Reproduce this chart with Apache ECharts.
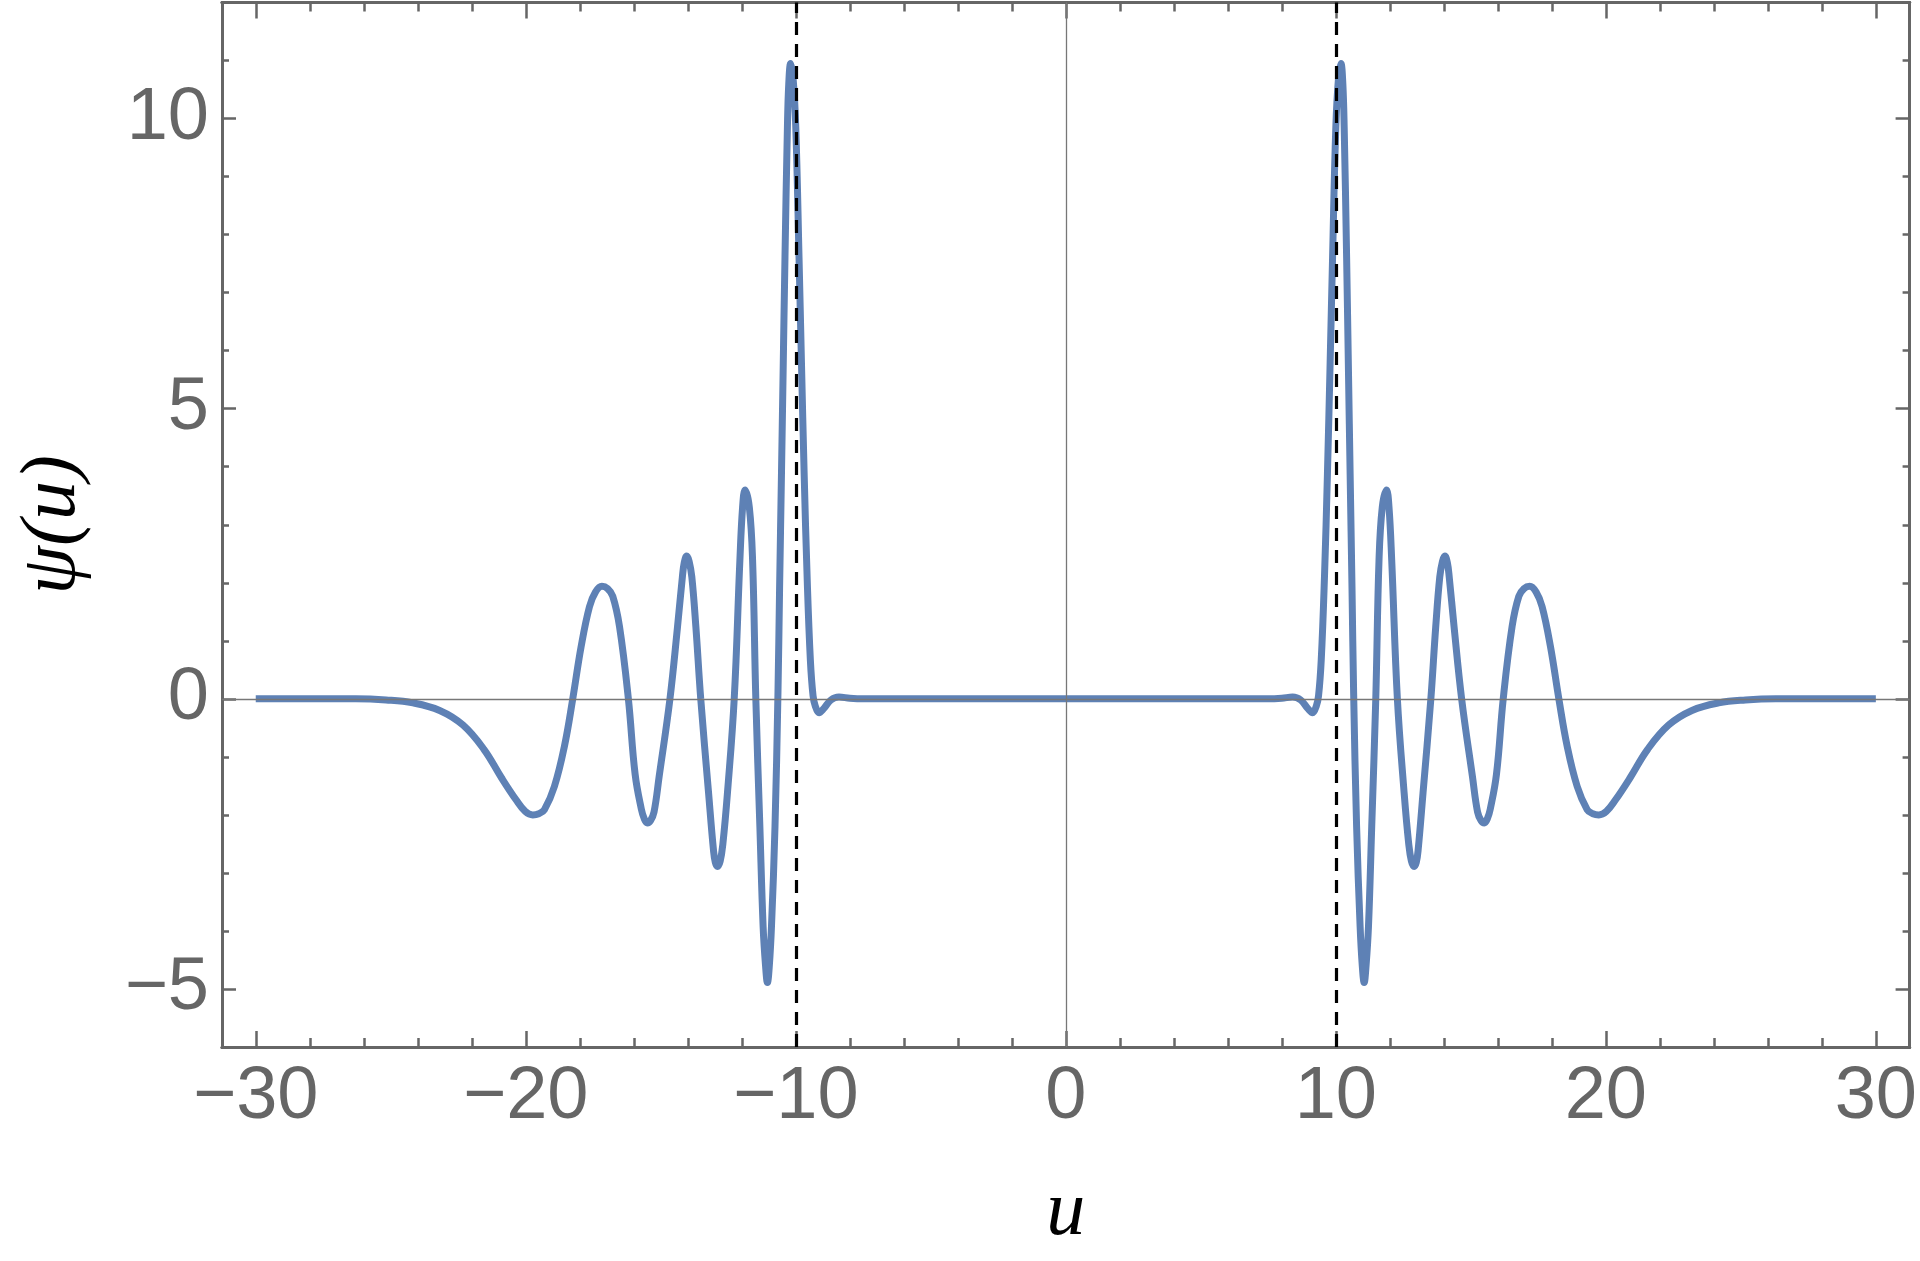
<!DOCTYPE html>
<html>
<head>
<meta charset="utf-8">
<script src="https://cdn.jsdelivr.net/npm/echarts@6/dist/echarts.min.js"></script>
<style>
html, body { margin: 0; padding: 0; background: #fff; }
#psi-chart { width: 1920px; height: 1261px; }
</style>
</head>
<body>
<div id="psi-chart"></div>
<script>
// values, left half (u < 0) and right half (u >= 0)
const uLeft = [
  -30, -28, -26.3, -25.17, -24.18, -23.19, -22.33, -21.55, -20.9, -20.36,
  -20.02, -19.74, -19.52, -19.31, -18.94, -18.57, -18.26, -17.95, -17.64, -17.42,
  -17.18, -16.97, -16.78, -16.53, -16.2, -15.95, -15.72, -15.61, -15.5, -15.38,
  -15.25, -15.06, -14.66, -14.38, -14.2, -14.13, -14.04, -13.95, -13.85, -13.70,
  -13.52, -13.23, -13.05, -12.98, -12.9, -12.8, -12.7, -12.53, -12.28, -12.07,
  -11.97, -11.88, -11.72, -11.6, -11.48, -11.33, -11.21, -11.12, -11.05, -10.98,
  -10.90, -10.77, -10.66, -10.60, -10.53, -10.47, -10.40, -10.31, -10.26, -10.19,
  -10.1, -10.0, -9.88, -9.79, -9.69, -9.58, -9.46, -9.36, -9.28, -9.14,
  -8.95, -8.7, -8.4, -8.0, -7.5, -4
];
const psiLeft = [
  0, 0, 0, -0.02, -0.07, -0.2, -0.45, -0.87, -1.36, -1.74,
  -1.94, -2.0, -1.98, -1.91, -1.51, -0.82, 0, 0.9, 1.59, 1.84,
  1.94, 1.9, 1.77, 1.25, 0, -1.3, -1.9, -2.07, -2.14, -2.1,
  -1.95, -1.34, 0, 1.24, 2.1, 2.35, 2.46, 2.37, 2.1, 1.24,
  0, -1.62, -2.6, -2.82, -2.89, -2.8, -2.5, -1.62, 0, 2.39,
  3.3, 3.6, 3.3, 2.39, 0, -2.2, -3.92, -4.6, -4.89, -4.6,
  -3.92, -2.2, 0.1, 1.9, 3.88, 5.6, 7.61, 9.85, 10.6, 10.95,
  10.7, 9.85, 7.61, 5.8, 3.88, 2.1, 0.67, 0.05, -0.12, -0.24,
  -0.16, -0.02, 0.03, 0.01, 0, 0
];
const uRight = [
  0,
  4, 7.5, 8.0, 8.4, 8.7, 8.95, 9.14, 9.28, 9.36, 9.46,
  9.58, 9.69, 9.79, 9.88, 10.0, 10.1, 10.19, 10.26, 10.31, 10.40,
  10.47, 10.53, 10.60, 10.66, 10.77, 10.90, 10.98, 11.05, 11.12, 11.21,
  11.33, 11.48, 11.6, 11.72, 11.88, 11.97, 12.07, 12.28, 12.53, 12.7,
  12.8, 12.9, 12.98, 13.05, 13.23, 13.52, 13.70, 13.85, 13.95, 14.04,
  14.13, 14.2, 14.38, 14.66, 15.06, 15.25, 15.38, 15.5, 15.61, 15.72,
  15.95, 16.2, 16.53, 16.78, 16.97, 17.18, 17.42, 17.64, 17.95, 18.26,
  18.57, 18.94, 19.31, 19.52, 19.74, 20.02, 20.36, 20.9, 21.55, 22.33,
  23.19, 24.18, 25.17, 26.3, 28, 30
];
const psiRight = [
  0,
  0, 0, 0.01, 0.03, -0.02, -0.16, -0.24, -0.12, 0.05, 0.67,
  2.1, 3.88, 5.8, 7.61, 9.85, 10.7, 10.95, 10.6, 9.85, 7.61,
  5.6, 3.88, 1.9, 0.1, -2.2, -3.92, -4.6, -4.89, -4.6, -3.92,
  -2.2, 0, 2.39, 3.3, 3.6, 3.3, 2.39, 0, -1.62, -2.5,
  -2.8, -2.89, -2.82, -2.6, -1.62, 0, 1.24, 2.1, 2.37, 2.46,
  2.35, 2.1, 1.24, 0, -1.34, -1.95, -2.1, -2.14, -2.07, -1.9,
  -1.3, 0, 1.25, 1.77, 1.9, 1.94, 1.84, 1.59, 0.9, 0,
  -0.82, -1.51, -1.91, -1.98, -2.0, -1.94, -1.74, -1.36, -0.87, -0.45,
  -0.2, -0.07, -0.02, 0, 0, 0
];
const xMajorTicks = [-30, -20, -10, 0, 10, 20, 30];
const xMinorTicks = [-28, -26, -24, -22, -18, -16, -14, -12, -8, -6, -4, -2,
  2, 4, 6, 8, 12, 14, 16, 18, 22, 24, 26, 28];
const yMajorTicks = [-5, 0, 5, 10];
const yMinorTicks = [-6, -4, -3, -2, -1, 1, 2, 3, 4, 6, 7, 8, 9, 11, 12];
const dashedAt = [-10, 10];

const X_MIN = -31.25, X_MAX = 31.25;
const Y_MIN = -6, Y_MAX = 12;
const FRAME = '#666666';
const minus = v => String(v).replace('-', '\u2212');

const labelStyle = {
  fontFamily: 'Liberation Sans',
  fontSize: 74,
  color: '#666666'
};
const nameStyle = {
  fontFamily: 'Liberation Serif',
  fontStyle: 'italic',
  fontSize: 78,
  color: '#000'
};

function makeAxis(kind, position, ticks, tickLen, withLabel) {
  let ax = {
    type: 'value',
    position: position,
    min: kind === 'x' ? X_MIN : Y_MIN,
    max: kind === 'x' ? X_MAX : Y_MAX,
    axisLine: { show: true, onZero: false, lineStyle: { color: FRAME, width: 3 } },
    axisTick: {
      show: true, inside: true, length: tickLen, customValues: ticks,
      lineStyle: { color: FRAME, width: 2.5 }
    },
    axisLabel: Object.assign({
      show: withLabel, customValues: ticks, margin: 14, formatter: minus
    }, labelStyle),
    splitLine: { show: false }
  };
  return ax;
}

let xAxes = [
  makeAxis('x', 'bottom', xMajorTicks, 16, true),
  makeAxis('x', 'bottom', xMinorTicks, 9, false),
  makeAxis('x', 'top', xMajorTicks, 16, false),
  makeAxis('x', 'top', xMinorTicks, 9, false)
];
xAxes[0].name = 'u';
xAxes[0].nameLocation = 'middle';
xAxes[0].nameGap = 127;
xAxes[0].nameTextStyle = nameStyle;

let yAxes = [
  makeAxis('y', 'left', yMajorTicks, 14, true),
  makeAxis('y', 'left', yMinorTicks, 7, false),
  makeAxis('y', 'right', yMajorTicks, 14, false),
  makeAxis('y', 'right', yMinorTicks, 7, false)
];
yAxes[0].axisLabel.margin = 13;
yAxes[0].name = 'ψ(u)';
yAxes[0].nameLocation = 'middle';
yAxes[0].nameGap = 130;
yAxes[0].nameTextStyle = nameStyle;

let curve = uLeft.map((u, i) => [u, psiLeft[i]])
  .concat(uRight.map((u, i) => [u, psiRight[i]]));

let myChart = echarts.init(document.getElementById('psi-chart'));
let option = {
  animation: false,
  grid: { left: 222, right: 8.5, top: 2.5, bottom: 214, containLabel: false },
  xAxis: xAxes,
  yAxis: yAxes,
  series: [
    {
      // thin axes through the origin
      type: 'line', data: [], z: 1, silent: true,
      markLine: {
        silent: true, symbol: 'none', label: { show: false },
        lineStyle: { color: '#777777', width: 1.3, type: 'solid' },
        data: [{ yAxis: 0 }, { xAxis: 0 }]
      }
    },
    {
      type: 'line',
      data: curve,
      z: 3,
      showSymbol: false,
      smooth: 0.4,
      lineStyle: { color: '#5E81B5', width: 7 },
      silent: true
    },
    {
      type: 'line', data: [], z: 5, silent: true,
      markLine: {
        silent: true, symbol: 'none', label: { show: false },
        lineStyle: { color: '#000000', width: 3.2, type: [13, 9] },
        data: dashedAt.map(v => ({ xAxis: v }))
      }
    }
  ]
};
myChart.setOption(option);
</script>
</body>
</html>
